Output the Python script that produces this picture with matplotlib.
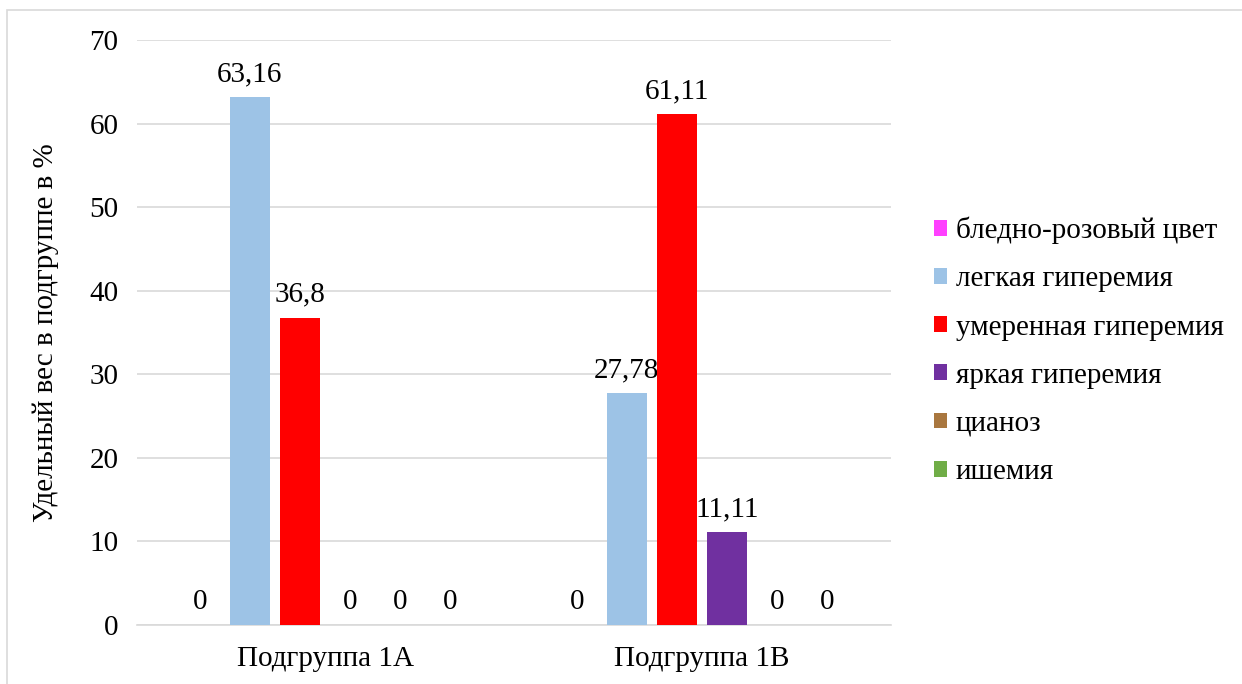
import matplotlib.pyplot as plt
from matplotlib.patches import Rectangle
import numpy as np

plt.rcParams['font.family'] = ['Liberation Serif', 'DejaVu Serif']

groups = ["Подгруппа 1А", "Подгруппа 1В"]
series = ["бледно-розовый цвет", "легкая гиперемия", "умеренная гиперемия",
          "яркая гиперемия", "цианоз", "ишемия"]
values = [
    [0, 0],
    [63.16, 27.78],
    [36.8, 61.11],
    [0, 11.11],
    [0, 0],
    [0, 0],
]
labels = [
    ["0", "0"],
    ["63,16", "27,78"],
    ["36,8", "61,11"],
    ["0", "11,11"],
    ["0", "0"],
    ["0", "0"],
]
colors = ["#FF40FF", "#9DC3E6", "#FF0000", "#7030A0", "#A9773F", "#70AD47"]

fig = plt.figure(figsize=(12.42, 6.84), dpi=100)
ax = fig.add_axes([0.110, 0.0863, 0.607, 0.855])

# рамка вокруг рисунка
fig.patches.append(Rectangle((7 / 1242, -0.01), 1.0, 1.0 - 10 / 684 + 0.01,
                             transform=fig.transFigure, fill=False,
                             edgecolor="#d9d9d9", linewidth=1.2))

x = np.arange(len(groups))
step = 0.133
width = 0.106
for i, name in enumerate(series):
    pos = x + (i - 2.5) * step
    ax.bar(pos, values[i], width=width, color=colors[i], label=name, zorder=3)
    for px, v, t in zip(pos, values[i], labels[i]):
        ax.annotate(t, (px, v), xytext=(0, 7), textcoords="offset points",
                    ha="center", va="bottom", fontsize=21)

ax.set_xlim(-0.5, 1.5)
ax.set_ylim(0, 70)
ax.set_yticks(range(0, 71, 10))
ax.set_xticks(x)
ax.set_xticklabels(groups, fontsize=21)
ax.tick_params(axis="y", labelsize=21, length=0, pad=13)
ax.tick_params(axis="x", length=0, pad=15)
ax.grid(axis="y", color="#d9d9d9", linewidth=1.2, zorder=0)
for s in ["top", "right", "left"]:
    ax.spines[s].set_visible(False)
ax.spines["bottom"].set_color("#d9d9d9")
ax.spines["bottom"].set_linewidth(1.2)
ax.set_ylabel("Удельный вес в подгруппе в %", fontsize=21, labelpad=22)

fig.legend(loc="center left", bbox_to_anchor=(0.731, 0.487), frameon=False,
           fontsize=21, handlelength=0.45, handleheight=0.45, handletextpad=0.3,
           labelspacing=0.76)

fig.savefig("out.png", dpi=100)
